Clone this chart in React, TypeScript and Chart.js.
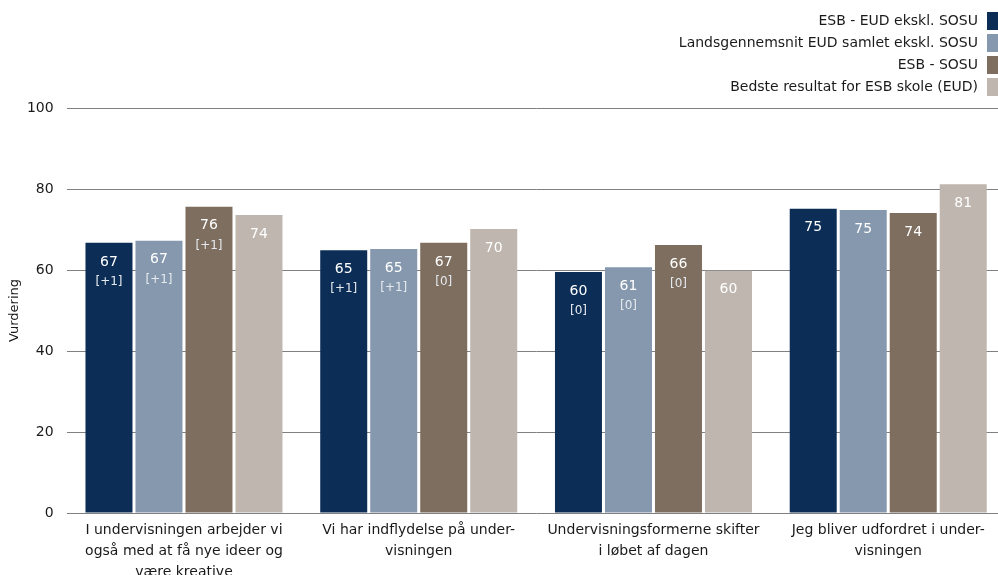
import React, { useEffect, useRef } from "react";
import { Chart, registerables } from "chart.js";

Chart.register(...registerables);

const categories: string[][] = [
  ["I undervisningen arbejder vi", "også med at få nye ideer og", "være kreative"],
  ["Vi har indflydelse på under-", "visningen"],
  ["Undervisningsformerne skifter", "i løbet af dagen"],
  ["Jeg bliver udfordret i under-", "visningen"],
];

const seriesNames = [
  "ESB - EUD ekskl. SOSU",
  "Landsgennemsnit EUD samlet ekskl. SOSU",
  "ESB - SOSU",
  "Bedste resultat for ESB skole (EUD)",
];

const esbEud = [66.7, 64.9, 59.5, 75.1];
const landsgennemsnit = [67.2, 65.2, 60.7, 74.8];
const esbSosu = [75.6, 66.7, 66.2, 74.1];
const bedste = [73.6, 70.1, 59.8, 81.2];

const esbEudChange = ["+1", "+1", "0", null];
const landsChange = ["+1", "+1", "0", null];
const esbSosuChange = ["+1", "0", "0", null];
const bedsteChange = [null, null, null, null];

const yTicks = [0, 20, 40, 60, 80, 100];

const colors = ["#0c2e56", "#8598ae", "#7d6e5f", "#beb6af"];

const FONT = "'DejaVu Sans', sans-serif";

const CW = 1010;
const CH = 595;

export default function App() {
  const ref = useRef<HTMLCanvasElement | null>(null);

  useEffect(() => {
    if (!ref.current) return;
    const values = [esbEud, landsgennemsnit, esbSosu, bedste];
    const changes = [esbEudChange, landsChange, esbSosuChange, bedsteChange];

    const labelPlugin = {
      id: "barLabels",
      afterDatasetsDraw(chart: any) {
        const ctx = chart.ctx;
        ctx.save();
        ctx.textAlign = "center";
        ctx.textBaseline = "middle";
        chart.data.datasets.forEach((ds: any, di: number) => {
          const meta = chart.getDatasetMeta(di);
          meta.data.forEach((bar: any, i: number) => {
            const v = ds.data[i];
            ctx.fillStyle = "#ffffff";
            ctx.font = `14px ${FONT}`;
            ctx.fillText(String(Math.round(v)), bar.x, bar.y + 19);
            const c = changes[di][i];
            if (c != null) {
              ctx.fillStyle = "#e6eaef";
              ctx.font = `12px ${FONT}`;
              ctx.fillText(`[${c}]`, bar.x, bar.y + 39);
            }
          });
        });
        ctx.restore();
      },
    };

    const legendPlugin = {
      id: "customLegend",
      afterDraw(chart: any) {
        const ctx = chart.ctx;
        ctx.save();
        ctx.font = `14px ${FONT}`;
        ctx.textAlign = "right";
        ctx.textBaseline = "middle";
        chart.data.datasets.forEach((ds: any, di: number) => {
          const cy = 21 + di * 22;
          ctx.fillStyle = "#1a1a1a";
          ctx.fillText(ds.label, 978, cy);
          ctx.fillStyle = ds.backgroundColor;
          ctx.fillRect(987, cy - 9, 14, 18);
        });
        ctx.restore();
      },
    };

    const chart = new Chart(ref.current, {
      type: "bar",
      data: {
        labels: categories,
        datasets: values.map((d, i) => ({
          label: seriesNames[i],
          data: d,
          backgroundColor: colors[i],
          categoryPercentage: 0.852,
          barPercentage: 0.94,
        })),
      },
      options: {
        animation: false,
        responsive: false,
        maintainAspectRatio: false,
        layout: { padding: { top: 108, left: 0, right: CW - 1005.6, bottom: 0 } },
        plugins: {
          legend: { display: false },
          tooltip: { enabled: false },
        },
        scales: {
          x: {
            grid: { display: false, drawTicks: false },
            border: { display: false },
            ticks: {
              color: "#1a1a1a",
              font: { family: FONT, size: 14, lineHeight: 1.5 },
              padding: 7,
              maxRotation: 0,
              autoSkip: false,
            },
            afterFit(scale: any) {
              scale.height = CH - 513;
            },
          },
          y: {
            min: 0,
            max: 100,
            afterBuildTicks(scale: any) {
              scale.ticks = yTicks.map((v) => ({ value: v }));
            },
            grid: { color: "#808080", lineWidth: 1, drawTicks: false },
            border: { display: false },
            ticks: {
              color: "#1a1a1a",
              font: { family: FONT, size: 14 },
              padding: 13,
            },
            title: {
              display: true,
              text: "Vurdering",
              color: "#1a1a1a",
              font: { family: FONT, size: 13 },
              padding: { top: 7, bottom: 0 },
            },
            afterFit(scale: any) {
              scale.width = 66.6;
            },
          },
        },
      },
      plugins: [labelPlugin, legendPlugin],
    });
    return () => chart.destroy();
  }, []);

  return (
    <div style={{ position: "absolute", left: 0, top: 0, width: CW, height: CH }}>
      <canvas ref={ref} width={CW} height={CH} style={{ width: CW, height: CH }} />
    </div>
  );
}
